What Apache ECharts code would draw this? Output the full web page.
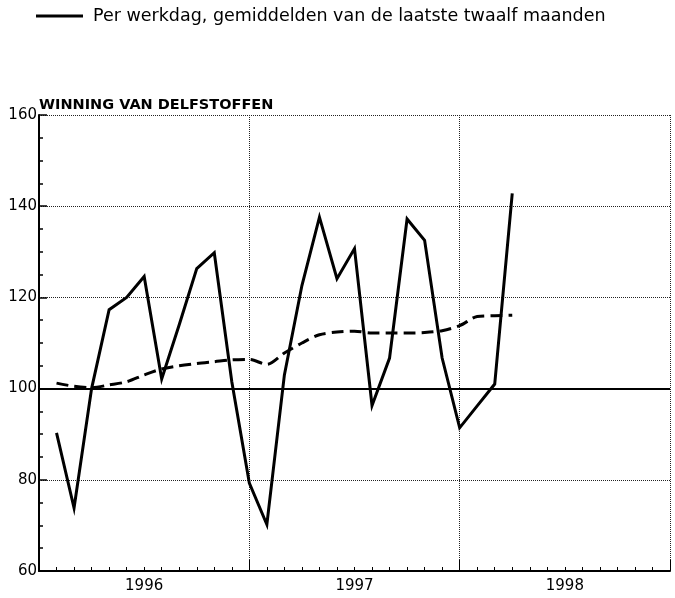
<!DOCTYPE html>
<html>
<head>
<meta charset="utf-8">
<script src="https://cdn.jsdelivr.net/npm/echarts@6/dist/echarts.min.js"></script>
<style>
  html, body { margin: 0; padding: 0; background: #fff; }
  #main { width: 675px; height: 598px; }
</style>
</head>
<body>
<div id="main"></div>
<script>
// months counted from jan 1996 (1 = first plotted month)
const years = ['1996', '1997', '1998']
const production = [90.3, 73.8, 100, 117.3, 120.0, 124.6, 102.1, 114, 126.3, 129.8, 101.5, 79.3, 70.2,
  103, 122.6, 137.6, 124.1, 130.7, 96.3, 106.7, 137.2, 132.5, 106.7, 91.4, 96.2, 101, 142.8]
const average = [101.2, 100.5, 100.2, 100.8, 101.5, 103.0, 104.3, 105.0, 105.5, 105.9, 106.3, 106.4, 105.3,
  107.8, 110.0, 111.8, 112.4, 112.6, 112.2, 112.2, 112.2, 112.3, 112.7, 113.8, 115.8, 116.0, 116.1]
const legendName = 'Per werkdag, gemiddelden van de laatste twaalf maanden'
const titleText = 'WINNING VAN DELFSTOFFEN'

const font = 'DejaVu Sans'

var chartDom = document.getElementById('main')
var myChart = echarts.init(chartDom)
var option

option = {
  animation: false,
  title: {
    text: titleText,
    left: 39,
    top: 98,
    padding: 0,
    textStyle: { fontFamily: font, fontSize: 14.5, fontWeight: 'bold', color: '#000' }
  },
  legend: {
    data: [legendName],
    left: 31,
    top: 2,
    icon: 'rect',
    itemWidth: 47,
    itemHeight: 3,
    itemStyle: { color: '#000', borderWidth: 0 },
    textStyle: { fontFamily: font, fontSize: 17.5, color: '#000', padding: [0, 0, 0, 5] }
  },
  grid: { left: 39, right: 5, top: 115, bottom: 27 },
  xAxis: [
    {
      type: 'value',
      min: 0,
      max: 36,
      interval: 12,
      axisLine: { lineStyle: { color: '#000', width: 2 } },
      axisTick: { inside: true, length: 11, lineStyle: { color: '#000', width: 1 } },
      minorTick: { show: true, splitNumber: 12, length: 4, lineStyle: { color: '#000', width: 1 } },
      axisLabel: { show: false },
      splitLine: { show: true, lineStyle: { color: '#222', type: [1, 1], width: 1 } }
    },
    {
      type: 'value',
      position: 'bottom',
      min: 0,
      max: 36,
      interval: 6,
      axisLine: { show: false },
      axisTick: { show: false },
      splitLine: { show: false },
      axisLabel: {
        margin: 8,
        fontFamily: font,
        fontSize: 15,
        color: '#000',
        formatter: v => (v % 12 === 6 ? years[Math.floor(v / 12)] : '')
      }
    }
  ],
  yAxis: {
    type: 'value',
    min: 60,
    max: 160,
    interval: 20,
    axisLine: { show: true, lineStyle: { color: '#000', width: 2 } },
    axisTick: { show: true, inside: true, length: 8, lineStyle: { color: '#000', width: 1.5 } },
    minorTick: { show: true, splitNumber: 4, length: 4, lineStyle: { color: '#000', width: 1.5 } },
    axisLabel: { margin: 2, fontFamily: font, fontSize: 15, color: '#000' },
    splitLine: { show: true, lineStyle: { color: '#222', type: [1, 1], width: 1 } }
  },
  series: [
    {
      name: 'Productie',
      type: 'line',
      xAxisIndex: 0,
      symbol: 'none',
      data: production.map((v, i) => [i + 1, v]),
      lineStyle: { color: '#000', width: 3, join: 'miter' },
      markLine: {
        silent: true,
        symbol: 'none',
        label: { show: false },
        lineStyle: { color: '#000', type: 'solid', width: 2 },
        data: [{ yAxis: 100 }]
      },
      z: 3
    },
    {
      name: legendName,
      type: 'line',
      xAxisIndex: 0,
      symbol: 'none',
      smooth: 0.3,
      data: average.map((v, i) => [i + 1, v]),
      lineStyle: { color: '#000', width: 3, type: [12, 6] },
      z: 2
    }
  ]
}

option && myChart.setOption(option)
</script>
</body>
</html>
